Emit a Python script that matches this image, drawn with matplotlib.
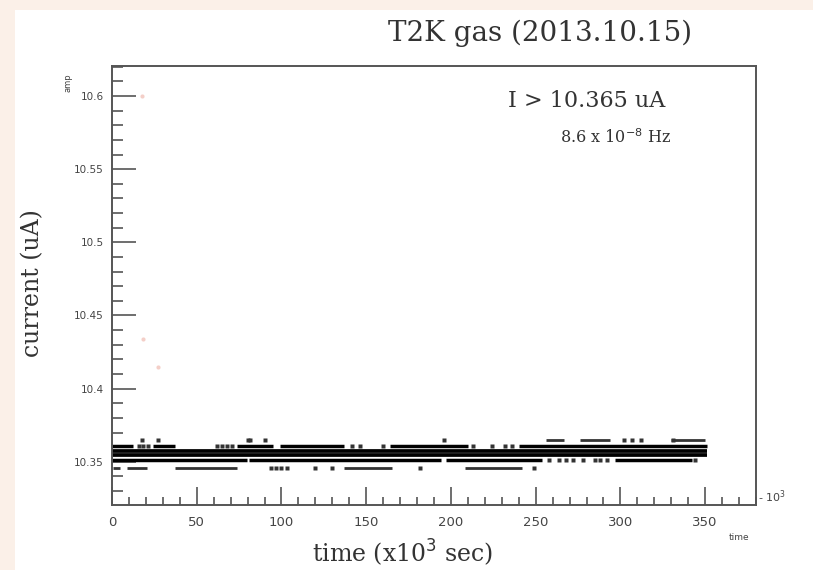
import matplotlib.pyplot as plt
from matplotlib.ticker import MultipleLocator, FixedLocator, FixedFormatter
from matplotlib.patches import Rectangle

# levels of the current readout (uA)
lev_365 = 10.365
lev_360 = 10.3605
lev_357 = 10.3575
lev_355 = 10.355
lev_352 = 10.3515
lev_346 = 10.3455

# dense stretches (x10^3 sec) for each level
seg_365 = [(256, 267), (276, 294), (330, 350)]
seg_360 = [(0, 12.5), (24, 37), (73.5, 95), (99, 137), (164, 210), (240, 351)]
seg_357 = [(0, 351)]
seg_355 = [(0, 351)]
seg_352 = [(0, 79.5), (81, 194), (197, 254), (297, 342)]
seg_346 = [(0.8, 5), (9, 20.5), (37, 74), (137, 165), (208, 242)]

# isolated readings
dot_365 = [17.5, 27, 80, 81.5, 90, 196, 302, 307, 312, 331]
dot_360 = [16, 18.5, 21, 62, 65, 68, 71, 141.5, 146.5, 160, 213, 224, 232, 236]
dot_352 = [258, 264, 268, 272, 278, 285, 288, 292, 344]
dot_346 = [94, 97, 100, 103, 120, 130, 182, 249]

# faint (red) outliers
out_t = [17.5, 18.5, 27.3]
out_i = [10.6, 10.434, 10.415]

x_ticks = [0, 50, 100, 150, 200, 250, 300, 350]
y_ticks = [10.35, 10.4, 10.45, 10.5, 10.55, 10.6]
y_labels = ['10.35', '10.4', '10.45', '10.5', '10.55', '10.6']

fig = plt.figure(figsize=(8.13, 5.70), dpi=100)
fig.patch.set_facecolor('#fbf0e8')
# white page inside the peach border
fig.patches.append(Rectangle((15 / 813, 0), 1, 1 - 10 / 570, transform=fig.transFigure,
                             facecolor='white', edgecolor='none', zorder=-5))

ax = fig.add_axes([112 / 813, 1 - 505 / 570, (756 - 112) / 813, (505 - 66) / 570])
ax.set_zorder(2)
ax.set_xlim(0, 380)
ax.set_ylim(10.3205, 10.6205)

# main band: thick, outer (sparse) rows: thinner and greyer
for lev, segs, lw, col in [(lev_365, seg_365, 2.0, '#333333'), (lev_360, seg_360, 2.5, 'black'),
                           (lev_357, seg_357, 2.7, 'black'), (lev_355, seg_355, 2.7, 'black'),
                           (lev_352, seg_352, 2.5, 'black'), (lev_346, seg_346, 2.0, '#333333')]:
    ax.hlines([lev] * len(segs), [s[0] for s in segs], [s[1] for s in segs],
              colors=col, lw=lw, capstyle='butt')
for lev, dots in [(lev_365, dot_365), (lev_360, dot_360), (lev_352, dot_352), (lev_346, dot_346)]:
    ax.plot(dots, [lev] * len(dots), 's', color='#333333', ms=2.2, mec='none')

ax.plot(out_t, out_i, 'o', color='#f2c4bb', ms=3, mec='none', alpha=0.8)

# ROOT-like axes: ticks only bottom/left, pointing in
for s in ax.spines.values():
    s.set_color('#555555')
    s.set_linewidth(1.4)
ax.xaxis.set_major_locator(FixedLocator(x_ticks))
ax.xaxis.set_minor_locator(MultipleLocator(10))
ax.yaxis.set_major_locator(FixedLocator(y_ticks))
ax.yaxis.set_major_formatter(FixedFormatter(y_labels))
ax.yaxis.set_minor_locator(MultipleLocator(0.01))
ax.tick_params(which='both', direction='in', color='#555555', top=False, right=False)
ax.tick_params(axis='x', which='major', length=13, width=1.2, labelsize=9.5, pad=8,
               labelcolor='#444444')
ax.tick_params(axis='x', which='minor', length=6, width=1.2)
ax.tick_params(axis='y', which='major', length=17, width=1.2, labelsize=7.5, pad=6,
               labelcolor='#444444')
ax.tick_params(axis='y', which='minor', length=8, width=1.2)

serif = 'DejaVu Serif'
fig.text(540 / 813, 1 - 33 / 570, 'T2K gas (2013.10.15)', family=serif, fontsize=20,
         color='#333333', ha='center', va='center')
fig.text(587 / 813, 1 - 101 / 570, 'I > 10.365 uA', family=serif, fontsize=16,
         color='#333333', ha='center', va='center')
fig.text(616 / 813, 1 - 138 / 570, r'8.6 x 10$^{-8}$ Hz', family=serif, fontsize=11.5,
         color='#333333', ha='center', va='center')
fig.text(33 / 813, 1 - 283 / 570, 'current (uA)', family=serif, fontsize=17,
         color='#333333', ha='center', va='center', rotation=90)
fig.text(403 / 813, 1 - 553 / 570, r'time (x10$^3$ sec)', family=serif, fontsize=17,
         color='#333333', ha='center', va='center')
fig.text(68 / 813, 1 - 83 / 570, 'amp', fontsize=6, color='#444444',
         ha='center', va='center', rotation=90)
fig.text(739 / 813, 1 - 537 / 570, 'time', fontsize=6.5, color='#444444',
         ha='center', va='center')
fig.text(772 / 813, 1 - 497 / 570, r'- 10$^3$', fontsize=8, color='#444444',
         ha='center', va='center')

fig.savefig('out.png', dpi=100)
